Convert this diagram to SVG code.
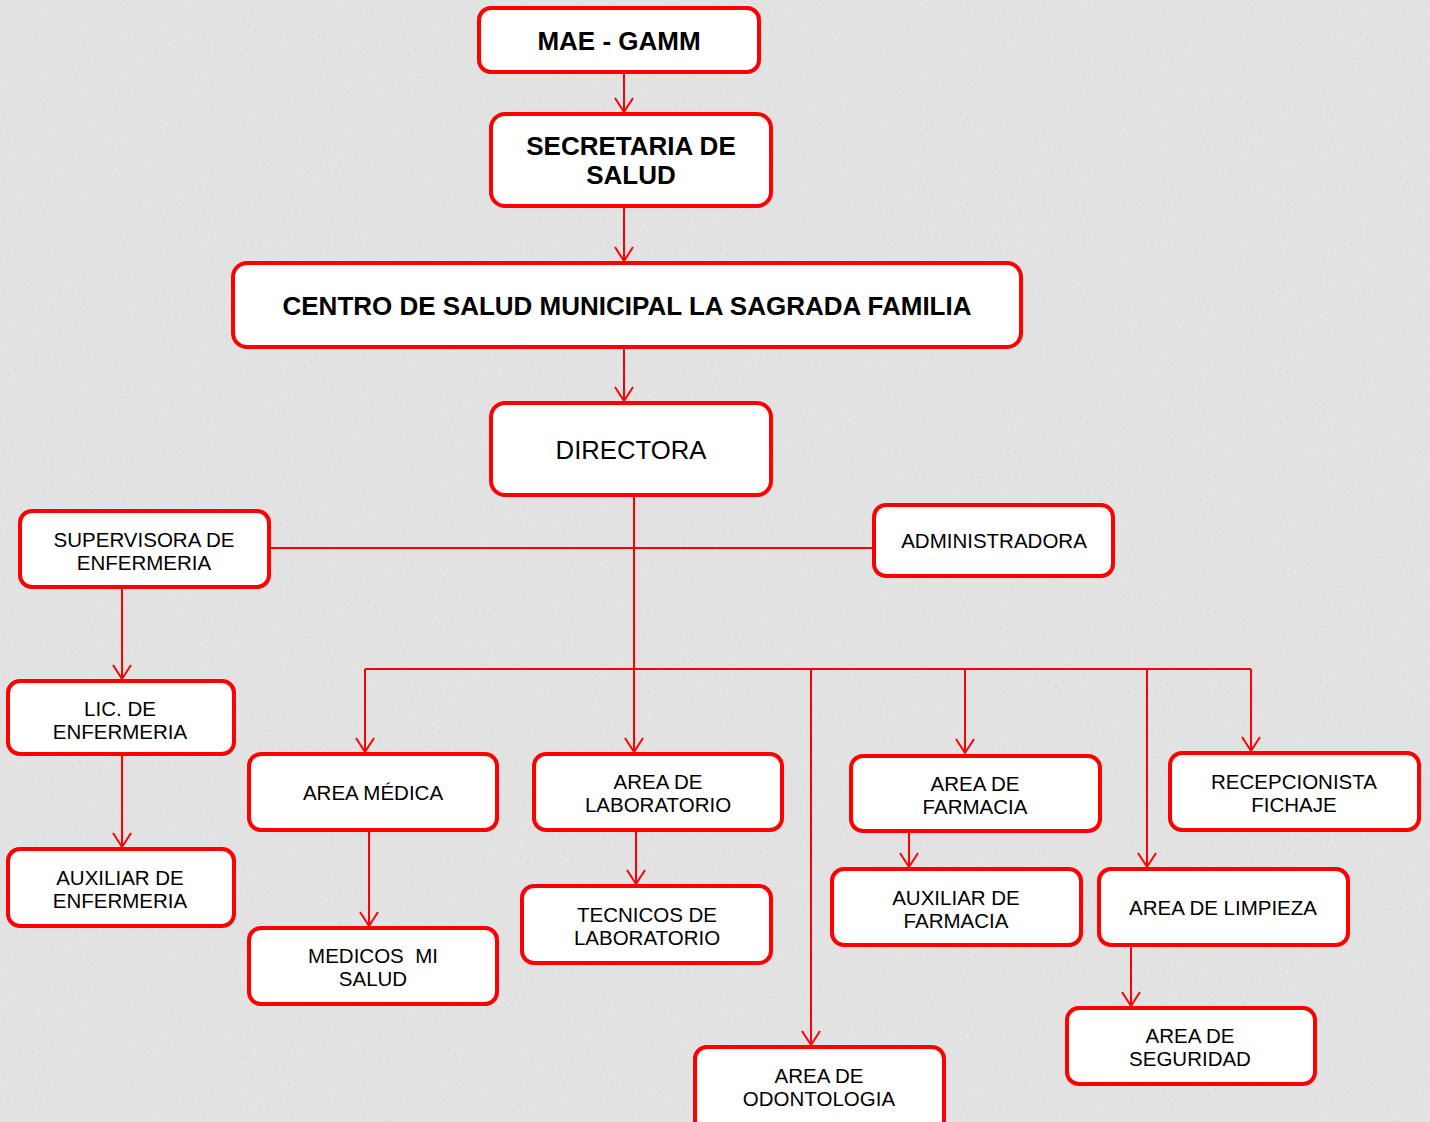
<svg xmlns="http://www.w3.org/2000/svg" width="1430" height="1122" viewBox="0 0 1430 1122">
<defs>
<style>
.box{fill:#fff;stroke:#f00;stroke-width:4}
.t{font-family:"Liberation Sans",Arial,sans-serif;font-size:20.5px;fill:#000;text-anchor:middle;white-space:pre}
.b{font-weight:bold;font-size:26px}
.big{font-size:25.7px}
.c{fill:none;stroke:#f00;stroke-width:2}
</style>
<marker id="arr" viewBox="-16 -10 20 20" refX="0" refY="0" markerWidth="20" markerHeight="20" markerUnits="userSpaceOnUse" orient="auto">
<path d="M-14,-9 L0,0 L-14,9" fill="none" stroke="#f00" stroke-width="2"/>
</marker>
<filter id="noise" x="0" y="0" width="100%" height="100%">
<feTurbulence type="fractalNoise" baseFrequency="0.35" numOctaves="2" seed="3"/>
<feColorMatrix type="matrix" values="0 0 0 0 0.5  0 0 0 0 0.5  0 0 0 0 0.5  0 0 0 0.18 0"/>
</filter>
</defs>
<rect width="1430" height="1122" fill="#e6e6e6"/>
<rect width="1430" height="1122" filter="url(#noise)"/>
<g id="connectors">
<path class="c" d="M624,72 V112" marker-end="url(#arr)"/>
<path class="c" d="M624,206 V261" marker-end="url(#arr)"/>
<path class="c" d="M624,347 V401" marker-end="url(#arr)"/>
<path class="c" d="M634,495 V752" marker-end="url(#arr)"/>
<path class="c" d="M269,548 H874"/>
<path class="c" d="M365,669 H1251"/>
<path class="c" d="M365,669 V752" marker-end="url(#arr)"/>
<path class="c" d="M811,669 V1045" marker-end="url(#arr)"/>
<path class="c" d="M965,669 V753" marker-end="url(#arr)"/>
<path class="c" d="M1147,669 V867" marker-end="url(#arr)"/>
<path class="c" d="M1251,669 V751" marker-end="url(#arr)"/>
<path class="c" d="M122,587 V679" marker-end="url(#arr)"/>
<path class="c" d="M122,754 V847" marker-end="url(#arr)"/>
<path class="c" d="M369,830 V926" marker-end="url(#arr)"/>
<path class="c" d="M636,830 V884" marker-end="url(#arr)"/>
<path class="c" d="M909,831 V867" marker-end="url(#arr)"/>
<path class="c" d="M1131,945 V1006" marker-end="url(#arr)"/>
</g>
<g id="mae"><rect class="box" x="479" y="8" width="280" height="64" rx="12"/><text class="t b" x="619" y="50">MAE - GAMM</text></g>
<g id="secretaria"><rect class="box" x="491" y="114" width="280" height="92" rx="14"/><text class="t b" x="631" y="155">SECRETARIA DE</text><text class="t b" x="631" y="184">SALUD</text></g>
<g id="centro"><rect class="box" x="233" y="263" width="788" height="84" rx="14"/><text class="t b" x="627" y="315">CENTRO DE SALUD MUNICIPAL LA SAGRADA FAMILIA</text></g>
<g id="directora"><rect class="box" x="491" y="403" width="280" height="92" rx="14"/><text class="t big" x="631" y="459">DIRECTORA</text></g>
<g id="supervisora"><rect class="box" x="20" y="511" width="249" height="76" rx="12"/><text class="t" x="144" y="547">SUPERVISORA DE</text><text class="t" x="144" y="570">ENFERMERIA</text></g>
<g id="administradora"><rect class="box" x="874" y="505" width="239" height="71" rx="12"/><text class="t" x="994" y="548">ADMINISTRADORA</text></g>
<g id="lic"><rect class="box" x="8" y="681" width="226" height="73" rx="12"/><text class="t" x="120" y="716">LIC. DE</text><text class="t" x="120" y="739">ENFERMERIA</text></g>
<g id="auxenf"><rect class="box" x="8" y="849" width="226" height="77" rx="12"/><text class="t" x="120" y="885">AUXILIAR DE</text><text class="t" x="120" y="908">ENFERMERIA</text></g>
<g id="medica"><rect class="box" x="249" y="754" width="248" height="76" rx="12"/><text class="t" x="373" y="800">AREA MÉDICA</text></g>
<g id="medicos"><rect class="box" x="249" y="928" width="248" height="76" rx="12"/><text class="t" x="373" y="963">MEDICOS  MI</text><text class="t" x="373" y="986">SALUD</text></g>
<g id="laboratorio"><rect class="box" x="534" y="754" width="248" height="76" rx="12"/><text class="t" x="658" y="789">AREA DE</text><text class="t" x="658" y="812">LABORATORIO</text></g>
<g id="tecnicos"><rect class="box" x="522" y="886" width="249" height="77" rx="12"/><text class="t" x="647" y="922">TECNICOS DE</text><text class="t" x="647" y="945">LABORATORIO</text></g>
<g id="odontologia"><rect class="box" x="695" y="1047" width="249" height="90" rx="12"/><text class="t" x="819" y="1083">AREA DE</text><text class="t" x="819" y="1106">ODONTOLOGIA</text></g>
<g id="farmacia"><rect class="box" x="851" y="756" width="249" height="75" rx="12"/><text class="t" x="975" y="791">AREA DE</text><text class="t" x="975" y="814">FARMACIA</text></g>
<g id="auxfarm"><rect class="box" x="832" y="869" width="249" height="76" rx="12"/><text class="t" x="956" y="905">AUXILIAR DE</text><text class="t" x="956" y="928">FARMACIA</text></g>
<g id="recepcionista"><rect class="box" x="1170" y="753" width="249" height="77" rx="12"/><text class="t" x="1294" y="789">RECEPCIONISTA</text><text class="t" x="1294" y="812">FICHAJE</text></g>
<g id="limpieza"><rect class="box" x="1099" y="869" width="249" height="76" rx="12"/><text class="t" x="1223" y="915">AREA DE LIMPIEZA</text></g>
<g id="seguridad"><rect class="box" x="1067" y="1008" width="248" height="76" rx="12"/><text class="t" x="1190" y="1043">AREA DE</text><text class="t" x="1190" y="1066">SEGURIDAD</text></g>
</svg>
